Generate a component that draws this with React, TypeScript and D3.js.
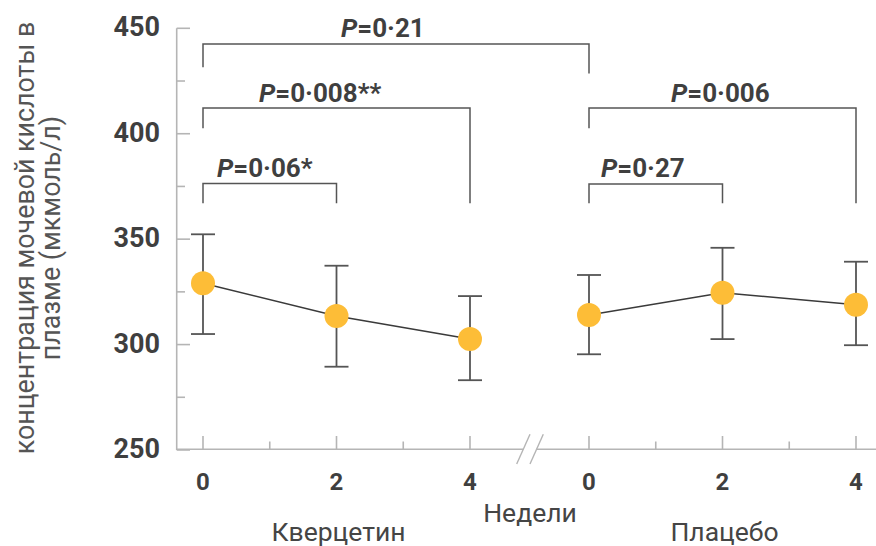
import React from "react";
import * as d3 from "d3";

const weeks = [0, 2, 4];
const weekTicksMinor = [1, 3];
const quercetinMean = [329.1, 313.6, 302.6];
const quercetinUpper = [352.3, 337.4, 323.0];
const quercetinLower = [305.0, 289.5, 283.1];
const placeboMean = [314.0, 324.6, 318.9];
const placeboUpper = [333.0, 345.9, 339.3];
const placeboLower = [295.4, 302.6, 299.7];
const yTicksMajor = [250, 300, 350, 400, 450];
const yTicksMinor = [275, 325, 375, 425];
const groupLabels = ["Кверцетин", "Плацебо"];
const xAxisTitle = "Недели";
const yTitleLines = ["концентрация мочевой кислоты в", "плазме (мкмоль/л)"];

// significance brackets
const bracketFrom = [[0, 0], [0, 0], [0, 0], [1, 0], [1, 0]];
const bracketTo = [[1, 0], [0, 4], [0, 2], [1, 4], [1, 2]];
const bracketTop = [442.6, 412.2, 376.4, 412.2, 376.2];
const bracketLeftEnd = [431.5, 402.6, 367.0, 402.6, 367.0];
const bracketRightEnd = [428.6, 367.0, 367.0, 367.0, 367.0];
const bracketText = ["=0·21", "=0·008**", "=0·06*", "=0·006", "=0·27"];

const W = 876;
const H = 546;
const labelOffsets = [138, 56, 14, 82, 12];

export default function App() {
  const y = d3.scaleLinear().domain([250, 450]).range([450, 28.3]);
  const xs = [
    d3.scaleLinear().domain([0, 4]).range([203, 470]),
    d3.scaleLinear().domain([0, 4]).range([589, 856]),
  ];
  const axisColor = "#b5b5b5";
  const darkText = "#3f3f3f";
  const font = "Roboto, 'DejaVu Sans', sans-serif";

  const groups = [
    { mean: quercetinMean, up: quercetinUpper, lo: quercetinLower },
    { mean: placeboMean, up: placeboUpper, lo: placeboLower },
  ];

  return (
    <svg
      width={W}
      height={H}
      style={{ position: "absolute", left: 0, top: 0, background: "#fff" }}
      fontFamily={font}
    >
      {/* y axis */}
      <line x1={176.7} x2={176.7} y1={y(450)} y2={y(250)} stroke={axisColor} strokeWidth={1.6} />
      {yTicksMajor.map((t) => (
        <g key={"ym" + t}>
          <line x1={176.7} x2={190} y1={y(t)} y2={y(t)} stroke={axisColor} strokeWidth={1.6} />
          <text
            x={160}
            y={y(t) + 8}
            textAnchor="end"
            fontSize={27}
            fontWeight={700}
            fill={darkText}
          >
            {t}
          </text>
        </g>
      ))}
      {yTicksMinor.map((t) => (
        <line key={"yn" + t} x1={176.7} x2={185} y1={y(t)} y2={y(t)} stroke={axisColor} strokeWidth={1.6} />
      ))}

      {/* x axis with break */}
      <line x1={176.7} x2={523.5} y1={449.3} y2={449.3} stroke={axisColor} strokeWidth={1.6} />
      <line x1={536.5} x2={876} y1={449.3} y2={449.3} stroke={axisColor} strokeWidth={1.6} />
      <line x1={516.7} y1={464} x2={530} y2={434.3} stroke={axisColor} strokeWidth={1.4} />
      <line x1={530} y1={464} x2={543.3} y2={434.3} stroke={axisColor} strokeWidth={1.4} />
      {xs.map((x, gi) => (
        <g key={"xg" + gi}>
          {weeks.map((w) => (
            <g key={"xt" + w}>
              <line x1={x(w)} x2={x(w)} y1={449.3} y2={436} stroke={axisColor} strokeWidth={1.6} />
              <text x={x(w)} y={490} textAnchor="middle" fontSize={24} fontWeight={700} fill={darkText}>
                {w}
              </text>
            </g>
          ))}
          {weekTicksMinor.map((w) => (
            <line key={"xm" + w} x1={x(w)} x2={x(w)} y1={449.3} y2={441.5} stroke={axisColor} strokeWidth={1.6} />
          ))}
          <text x={x(2) + 2} y={540.5} textAnchor="middle" fontSize={26.5} fill="#454545">
            {groupLabels[gi]}
          </text>
        </g>
      ))}
      <text x={530} y={522} textAnchor="middle" fontSize={26.5} fill="#454545">
        {xAxisTitle}
      </text>

      {/* y title */}
      <g transform="translate(0,238) rotate(-90)">
        <text x={0} y={33.5} textAnchor="middle" fontSize={26.8} fill="#555">
          {yTitleLines[0]}
        </text>
        <text x={0} y={59.5} textAnchor="middle" fontSize={26.8} fill="#555">
          {yTitleLines[1]}
        </text>
      </g>

      {/* brackets */}
      {bracketText.map((txt, i) => {
        const x1 = xs[bracketFrom[i][0]](bracketFrom[i][1]);
        const x2 = xs[bracketTo[i][0]](bracketTo[i][1]);
        const yt = y(bracketTop[i]);
        const path = d3.path();
        path.moveTo(x1, y(bracketLeftEnd[i]));
        path.lineTo(x1, yt);
        path.lineTo(x2, yt);
        path.lineTo(x2, y(bracketRightEnd[i]));
        return (
          <g key={"br" + i}>
            <path d={path.toString()} fill="none" stroke="#555" strokeWidth={1.5} />
            <text x={x1 + labelOffsets[i]} y={yt - 6.5} fontSize={26} fontWeight={700} fill={darkText}>
              <tspan fontStyle="italic">P</tspan>
              {txt}
            </text>
          </g>
        );
      })}

      {/* series */}
      {groups.map((g, gi) => {
        const x = xs[gi];
        const ln = d3
          .line<number>()
          .x((_, i) => x(weeks[i]))
          .y((d) => y(d));
        return (
          <g key={"s" + gi}>
            <path d={ln(g.mean) || ""} fill="none" stroke="#3a3a3a" strokeWidth={1.5} />
            {weeks.map((w, i) => (
              <g key={"e" + i}>
                <line x1={x(w)} x2={x(w)} y1={y(g.up[i])} y2={y(g.lo[i])} stroke="#555" strokeWidth={1.8} />
                <line x1={x(w) - 12} x2={x(w) + 12} y1={y(g.up[i])} y2={y(g.up[i])} stroke="#555" strokeWidth={1.8} />
                <line x1={x(w) - 12} x2={x(w) + 12} y1={y(g.lo[i])} y2={y(g.lo[i])} stroke="#555" strokeWidth={1.8} />
              </g>
            ))}
            {weeks.map((w, i) => (
              <circle key={"c" + i} cx={x(w)} cy={y(g.mean[i])} r={12} fill="#FDBD37" />
            ))}
          </g>
        );
      })}
    </svg>
  );
}
